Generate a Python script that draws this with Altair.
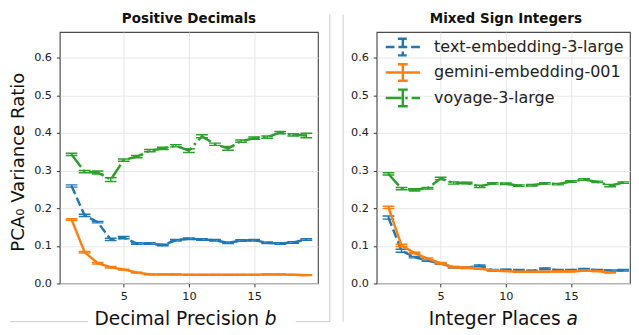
import altair as alt
import pandas as pd

# ---------------- data ----------------
models = ["text-embedding-3-large", "gemini-embedding-001", "voyage-3-large"]
colors = ["#1f77b4", "#ff7f0e", "#2ca02c"]
dashes = [[9, 4], [1, 0], [16, 4, 2.5, 4]]

x_pos = list(range(1, 20))
pos_text = [0.259, 0.181, 0.163, 0.117, 0.122, 0.106, 0.106, 0.102, 0.115, 0.119,
            0.117, 0.115, 0.108, 0.114, 0.115, 0.108, 0.106, 0.109, 0.117]
pos_text_err = [0.003, 0.003, 0.002, 0.003, 0.003, 0.002, 0.002, 0.002, 0.002, 0.002,
                0.002, 0.002, 0.002, 0.002, 0.002, 0.002, 0.002, 0.002, 0.002]
pos_gemini = [0.170, 0.083, 0.054, 0.043, 0.037, 0.029, 0.024, 0.024, 0.024, 0.023,
              0.023, 0.023, 0.023, 0.023, 0.023, 0.024, 0.024, 0.023, 0.022]
pos_gemini_err = [0.002, 0.002, 0.002, 0.002, 0.001, 0.001, 0.001, 0.001, 0.001, 0.001,
                  0.001, 0.001, 0.001, 0.001, 0.001, 0.001, 0.001, 0.001, 0.001]
pos_voyage = [0.343, 0.297, 0.295, 0.276, 0.328, 0.337, 0.353, 0.359, 0.366, 0.353,
              0.391, 0.370, 0.359, 0.378, 0.386, 0.389, 0.401, 0.395, 0.393]
pos_voyage_err = [0.003, 0.003, 0.004, 0.005, 0.003, 0.003, 0.003, 0.003, 0.003, 0.005,
                  0.004, 0.003, 0.005, 0.003, 0.003, 0.003, 0.003, 0.003, 0.006]

x_mix = list(range(1, 20))
mix_text = [0.175, 0.087, 0.070, 0.061, 0.053, 0.043, 0.042, 0.047, 0.035, 0.036,
            0.035, 0.033, 0.039, 0.035, 0.035, 0.038, 0.035, 0.034, 0.035]
mix_text_err = [0.004, 0.004, 0.002, 0.002, 0.002, 0.002, 0.002, 0.002, 0.002, 0.002,
                0.002, 0.002, 0.002, 0.002, 0.002, 0.002, 0.002, 0.002, 0.002]
mix_gemini = [0.202, 0.101, 0.081, 0.066, 0.054, 0.043, 0.042, 0.039, 0.035, 0.033,
              0.031, 0.031, 0.031, 0.032, 0.032, 0.034, 0.033, 0.029]
mix_gemini_err = [0.003, 0.003, 0.002, 0.002, 0.002, 0.001, 0.001, 0.001, 0.001, 0.001,
                  0.001, 0.001, 0.001, 0.001, 0.001, 0.001, 0.001, 0.001]
mix_voyage = [0.291, 0.252, 0.249, 0.253, 0.279, 0.267, 0.267, 0.258, 0.266, 0.265,
              0.260, 0.261, 0.266, 0.264, 0.271, 0.276, 0.270, 0.260, 0.268]
mix_voyage_err = [0.003, 0.003, 0.003, 0.002, 0.003, 0.003, 0.002, 0.003, 0.002, 0.002,
                  0.002, 0.002, 0.002, 0.002, 0.002, 0.002, 0.002, 0.003, 0.002]

y_ticks = [0.0, 0.1, 0.2, 0.3, 0.4, 0.5, 0.6]
x_ticks = [5, 10, 15]
titles = ["Positive Decimals", "Mixed Sign Integers"]
y_title = "PCA\u2080 Variance Ratio"
x_title_main = ["Decimal Precision", "Integer Places"]
x_title_var = ["b", "a"]

FONT = "DejaVu Sans"
H = 257
LEG_PATH = "M-2.06,0H2.06M0,-1V1M-0.59,-1H0.59M-0.59,1H0.59"


def panel(idx, xs, series, errs, width, xmax, show_y_title, show_legend, xt_main_x, xt_var_x):
    xaxis = alt.Axis(values=x_ticks, title=None, grid=True, gridColor="#e6e6e6", domain=False,
                     tickColor="#333333", tickSize=3.5, labelFontSize=11.5, labelFont=FONT,
                     labelColor="#222222", labelPadding=3.5, labelFlush=False)
    yaxis = alt.Axis(values=y_ticks, format=".1f", title=y_title if show_y_title else None,
                     grid=True, gridColor="#e6e6e6", domain=False,
                     tickColor="#333333", tickSize=3.5, labelFontSize=11.5, labelFont=FONT,
                     labelColor="#222222", labelPadding=5, titleFontSize=18.5, titleFont=FONT,
                     titleFontWeight="normal", titleColor="#111111", titlePadding=6,
                     titleY=132.5)
    xsc = alt.Scale(domain=[0.1, xmax], nice=False, zero=False)
    ysc = alt.Scale(domain=[0, 0.668], nice=False)
    if show_legend:
        leg = alt.Legend(orient="none", legendX=16.7, legendY=5.3, title=None,
                         symbolType=LEG_PATH, symbolSize=289, symbolStrokeWidth=2.5,
                         labelFontSize=16.3, labelFont=FONT, labelColor="#222222", labelLimit=0,
                         labelOffset=22, rowPadding=-2, padding=0)
    else:
        leg = None
    layers = []
    for m, c, ys, es in zip(models, colors, series, errs):
        n = len(ys)
        df = pd.DataFrame({"x": xs[:n], "y": ys, "model": [m] * n,
                           "lo": [v - e for v, e in zip(ys, es)],
                           "hi": [v + e for v, e in zip(ys, es)]})
        X = alt.X("x:Q", scale=xsc, axis=xaxis)
        line = alt.Chart(df).mark_line(strokeWidth=2.5, clip=True).encode(
            x=X, y=alt.Y("y:Q", scale=ysc, axis=yaxis),
            color=alt.Color("model:N", scale=alt.Scale(domain=models, range=colors), legend=leg),
            strokeDash=alt.StrokeDash("model:N", scale=alt.Scale(domain=models, range=dashes), legend=leg),
        )
        rule = alt.Chart(df).mark_rule(strokeWidth=1.5, color=c, clip=True).encode(
            x=X, y=alt.Y("lo:Q", scale=ysc, axis=yaxis), y2="hi:Q")
        cap_lo = alt.Chart(df).mark_tick(orient="horizontal", size=12, thickness=1.5,
                                         color=c, opacity=1, clip=True).encode(
            x=X, y=alt.Y("lo:Q", scale=ysc, axis=yaxis))
        cap_hi = alt.Chart(df).mark_tick(orient="horizontal", size=12, thickness=1.5,
                                         color=c, opacity=1, clip=True).encode(
            x=X, y=alt.Y("hi:Q", scale=ysc, axis=yaxis))
        layers += [line, rule, cap_lo, cap_hi]

    dummy = alt.Chart(pd.DataFrame({"k": [0]}))
    ttl = dummy.mark_text(text=titles[idx], align="center", baseline="middle",
                          fontSize=13.8, font=FONT, fontWeight="bold", color="#111111").encode(
        x=alt.value(132), y=alt.value(-13))
    xt1 = dummy.mark_text(text=x_title_main[idx], align="right", baseline="alphabetic",
                          fontSize=19, font=FONT, color="#111111").encode(
        x=alt.value(xt_main_x), y=alt.value(H + 42))
    xt2 = dummy.mark_text(text=x_title_var[idx], align="left", baseline="alphabetic",
                          fontSize=19, font=FONT, fontStyle="italic", color="#111111").encode(
        x=alt.value(xt_var_x), y=alt.value(H + 42))
    layers += [ttl, xt1, xt2]

    deco = "#cccccc"
    if idx == 0:
        layers += [
            dummy.mark_rule(color=deco, strokeWidth=1).encode(x=alt.value(276), y=alt.value(-18), y2=alt.value(296)),
            dummy.mark_rule(color=deco, strokeWidth=1).encode(x=alt.value(-51), x2=alt.value(29), y=alt.value(296)),
            dummy.mark_rule(color=deco, strokeWidth=1).encode(x=alt.value(241), x2=alt.value(276), y=alt.value(296)),
        ]
    else:
        layers += [
            dummy.mark_rule(color=deco, strokeWidth=1).encode(x=alt.value(-34.3), y=alt.value(-18), y2=alt.value(296)),
        ]

    return alt.layer(*layers).properties(width=width, height=H)


left = panel(0, x_pos, [pos_text, pos_gemini, pos_voyage],
             [pos_text_err, pos_gemini_err, pos_voyage_err], 264, 19.9, True, False, 203.6, 209.6)
right = panel(1, x_mix, [mix_text, mix_gemini, mix_voyage],
              [mix_text_err, mix_gemini_err, mix_voyage_err], 259, 19.525, False, True, 188.1, 194.1)

chart = alt.hconcat(left, right, spacing=10).resolve_scale(
    color="independent", strokeDash="independent"
).resolve_legend(color="independent", strokeDash="independent").properties(
    padding=0
).configure_view(stroke="#4d4d4d", strokeWidth=1.2)

chart.save("out.html", embed_options={"renderer": "svg", "actions": False})
